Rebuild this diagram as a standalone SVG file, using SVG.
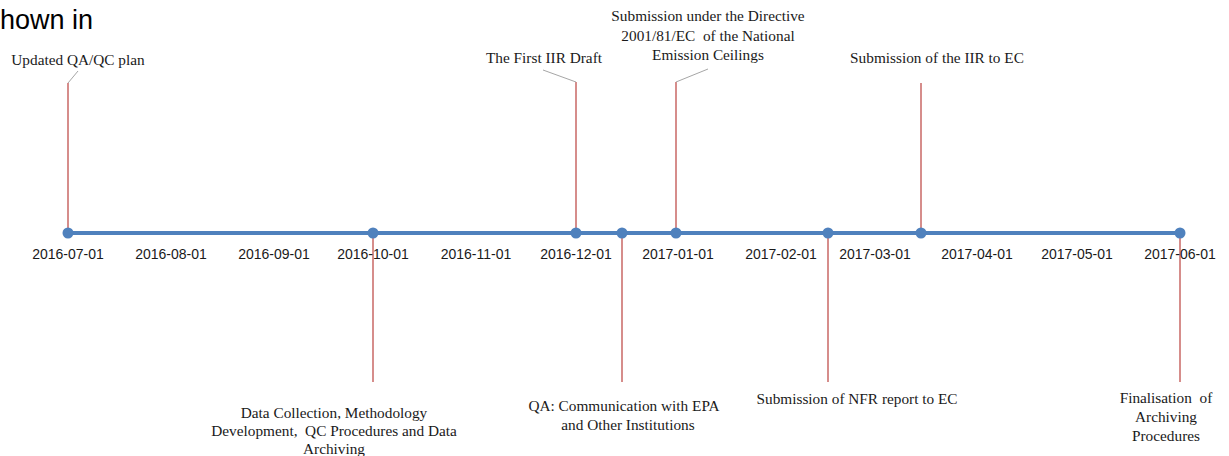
<svg xmlns="http://www.w3.org/2000/svg" width="1229" height="456" viewBox="0 0 1229 456">
<style>
.lbl{font-family:"Liberation Serif","Times New Roman",serif;font-size:15.3px;fill:#1a1a1a;text-anchor:middle;white-space:pre}
.tick{font-family:"Liberation Sans",Arial,sans-serif;font-size:14px;fill:#1a1a1a;text-anchor:middle}
.red{stroke:#C0504D;stroke-width:1.3;fill:none}
.lead{stroke:#A6A6A6;stroke-width:1;fill:none}
.dot{fill:#4F81BD}
</style>
<rect width="1229" height="456" fill="#fff"/>
<text x="0" y="29" font-family="'Liberation Sans',Arial,sans-serif" font-size="27" fill="#000">hown in</text>
<g id="connectors">
<line class="red" x1="68" y1="233" x2="68" y2="83"/>
<line class="lead" x1="68" y1="83" x2="78" y2="71"/>
<line class="red" x1="373" y1="233" x2="373" y2="382"/>
<line class="red" x1="576" y1="233" x2="576" y2="82"/>
<line class="lead" x1="576" y1="82" x2="543" y2="70"/>
<line class="red" x1="622" y1="233" x2="622" y2="382"/>
<line class="red" x1="676" y1="233" x2="676" y2="82"/>
<line class="lead" x1="676" y1="82" x2="708" y2="69"/>
<line class="red" x1="828" y1="233" x2="828" y2="382"/>
<line class="red" x1="921" y1="233" x2="921" y2="83"/>
<line class="red" x1="1180" y1="233" x2="1180" y2="382"/>
</g>
<g id="axis">
<line x1="68" y1="233" x2="1180" y2="233" stroke="#4F81BD" stroke-width="4"/>
<circle class="dot" cx="68" cy="233" r="5.5"/>
<circle class="dot" cx="373" cy="233" r="5.5"/>
<circle class="dot" cx="576" cy="233" r="5.5"/>
<circle class="dot" cx="622" cy="233" r="5.5"/>
<circle class="dot" cx="676" cy="233" r="5.5"/>
<circle class="dot" cx="828" cy="233" r="5.5"/>
<circle class="dot" cx="921" cy="233" r="5.5"/>
<circle class="dot" cx="1180" cy="233" r="5.5"/>
<text class="tick" x="68" y="259">2016-07-01</text>
<text class="tick" x="171" y="259">2016-08-01</text>
<text class="tick" x="274" y="259">2016-09-01</text>
<text class="tick" x="373" y="259">2016-10-01</text>
<text class="tick" x="476" y="259">2016-11-01</text>
<text class="tick" x="576" y="259">2016-12-01</text>
<text class="tick" x="678" y="259">2017-01-01</text>
<text class="tick" x="781" y="259">2017-02-01</text>
<text class="tick" x="875" y="259">2017-03-01</text>
<text class="tick" x="977" y="259">2017-04-01</text>
<text class="tick" x="1077" y="259">2017-05-01</text>
<text class="tick" x="1180" y="259">2017-06-01</text>
</g>
<g id="ev-qaqc"><text class="lbl" x="78" y="65">Updated QA/QC plan</text></g>
<g id="ev-data"><text class="lbl" x="334" y="418">Data Collection, Methodology</text><text class="lbl" x="334" y="436">Development,  QC Procedures and Data</text><text class="lbl" x="334" y="454">Archiving</text></g>
<g id="ev-draft"><text class="lbl" x="544" y="63">The First IIR Draft</text></g>
<g id="ev-qa"><text class="lbl" x="624" y="411">QA: Communication with EPA</text><text class="lbl" x="628" y="430">and Other Institutions</text></g>
<g id="ev-directive"><text class="lbl" x="708" y="21">Submission under the Directive</text><text class="lbl" x="708" y="41">2001/81/EC  of the National</text><text class="lbl" x="708" y="60">Emission Ceilings</text></g>
<g id="ev-nfr"><text class="lbl" x="857" y="404">Submission of NFR report to EC</text></g>
<g id="ev-iir"><text class="lbl" x="937" y="63">Submission of the IIR to EC</text></g>
<g id="ev-final"><text class="lbl" x="1166" y="403">Finalisation  of</text><text class="lbl" x="1166" y="422">Archiving</text><text class="lbl" x="1166" y="441">Procedures</text></g>
</svg>
